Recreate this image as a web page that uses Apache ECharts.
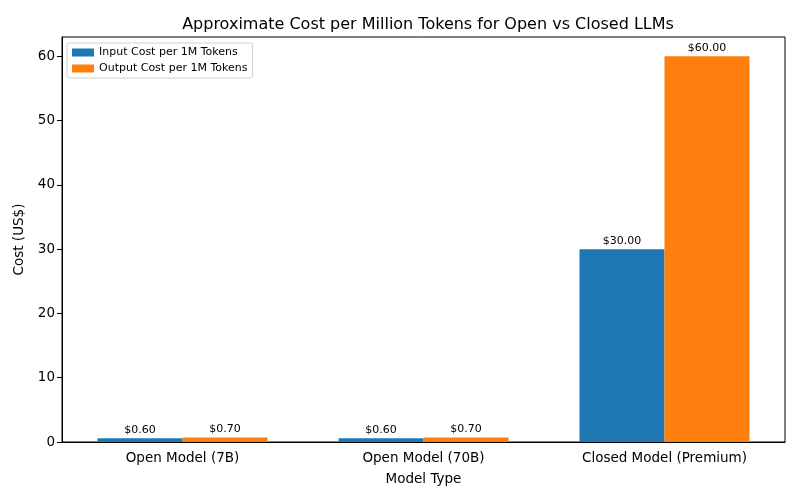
<!DOCTYPE html>
<html>
<head>
<meta charset="utf-8">
<script src="https://cdn.jsdelivr.net/npm/echarts@6/dist/echarts.min.js"></script>
<style>html,body{margin:0;padding:0;background:#fff;}#c{width:800px;height:500px;}</style>
</head>
<body>
<div id="c"></div>
<script>
const categories = ["Open Model (7B)", "Open Model (70B)", "Closed Model (Premium)"];
const inputCost = [0.60, 0.60, 30.00];
const outputCost = [0.70, 0.70, 60.00];
const seriesNames = ["Input Cost per 1M Tokens", "Output Cost per 1M Tokens"];
const yTicks = [0, 10, 20, 30, 40, 50, 60];

const font = "DejaVu Sans";
const chart = echarts.init(document.getElementById('c'), null, {renderer: 'canvas'});
const labelCfg = {
  show: true, position: 'top', distance: 3,
  fontFamily: font, fontSize: 11, color: '#000',
  formatter: p => '$' + p.value.toFixed(2)
};
chart.setOption({
  animation: false,
  backgroundColor: '#fff',
  textStyle: {fontFamily: font},
  title: {
    text: "Approximate Cost per Million Tokens for Open vs Closed LLMs",
    left: 423, top: 12, textAlign: 'center',
    textStyle: {fontFamily: font, fontSize: 16, fontWeight: 'normal', color: '#000'}
  },
  legend: {
    left: 67, top: 43, orient: 'vertical',
    icon: 'rect',
    itemWidth: 22, itemHeight: 8, itemGap: 5,
    padding: [4, 5, 4, 5],
    borderColor: '#d0d0d0', borderWidth: 1, borderRadius: 2,
    textStyle: {fontFamily: font, fontSize: 11, color: '#000'},
    data: seriesNames
  },
  grid: {left: 62, right: 15, top: 37, bottom: 58, show: true, borderColor: '#000', borderWidth: 1, containLabel: false},
  xAxis: {
    type: 'category', data: categories,
    name: 'Model Type', nameLocation: 'middle', nameGap: 30,
    nameTextStyle: {fontFamily: font, fontSize: 13.5, color: '#000'},
    axisLine: {lineStyle: {color: '#000'}},
    axisTick: {alignWithLabel: true, length: 5, lineStyle: {color: '#000'}},
    axisLabel: {fontFamily: font, fontSize: 13.5, color: '#000', margin: 9},
    splitLine: {show: false}
  },
  yAxis: {
    type: 'value', min: 0, max: 63, interval: 10,
    name: 'Cost (US$)', nameLocation: 'middle', nameGap: 32,
    nameTextStyle: {fontFamily: font, fontSize: 13.5, color: '#000'},
    axisLine: {show: true, lineStyle: {color: '#000'}},
    axisTick: {show: true, length: 5, lineStyle: {color: '#000'}, customValues: yTicks},
    axisLabel: {fontFamily: font, fontSize: 13.5, color: '#000', margin: 7, customValues: yTicks},
    splitLine: {show: false}
  },
  series: [
    {name: seriesNames[0], type: 'bar', data: inputCost, barWidth: 85, barGap: '0%',
     itemStyle: {color: '#1f77b4', borderWidth: 0}, label: labelCfg},
    {name: seriesNames[1], type: 'bar', data: outputCost, barWidth: 85, barGap: '0%',
     itemStyle: {color: '#ff7f0e', borderWidth: 0}, label: labelCfg}
  ]
});
</script>
</body>
</html>
